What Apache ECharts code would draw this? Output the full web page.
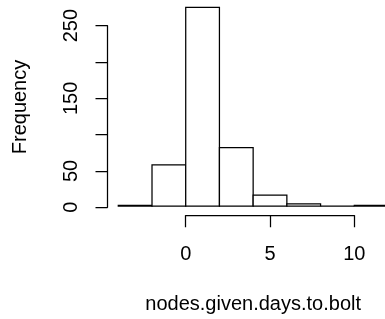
<!DOCTYPE html>
<html>
<head>
<meta charset="utf-8">
<script src="https://cdn.jsdelivr.net/npm/echarts@6/dist/echarts.min.js"></script>
<style>html,body{margin:0;padding:0;background:#fff;}#c{width:385px;height:319px;}</style>
</head>
<body>
<div id="c"></div>
<script>
// Histogram data
var breaks = [-4, -2, 0, 2, 4, 6, 8, 10, 12];
var counts = [1, 57, 275, 81, 15, 3, 0, 1];
var xTicks = [0, 5, 10];
var yTicks = [0, 50, 100, 150, 200, 250];
var yLabelShown = [0, 50, 150, 250];
var xTitle = 'nodes.given.days.to.bolt';
var yTitle = 'Frequency';

// Layout: R-style plot region in pixels (may exceed canvas)
var W = 385, H = 319;
var L = 107.5, R = 398.8, T = -0.5, B = 215.3;
var xr = breaks[breaks.length - 1] - breaks[0];
var xlim = [breaks[0] - 0.04 * xr, breaks[breaks.length - 1] + 0.04 * xr];
var ymax = Math.max.apply(null, counts);
var ylim = [-0.04 * ymax, ymax * 1.04];
function px(v) { return L + (v - xlim[0]) / (xlim[1] - xlim[0]) * (R - L); }
function py(v) { return B - (v - ylim[0]) / (ylim[1] - ylim[0]) * (B - T); }
function ix(p) { return xlim[0] + (p - L) / (R - L) * (xlim[1] - xlim[0]); }
function iy(p) { return ylim[0] + (B - p) / (B - T) * (ylim[1] - ylim[0]); }
// visible part of the plot region
var gx0 = Math.max(L, 0), gx1 = Math.min(R, W), gy0 = Math.max(T, 0), gy1 = Math.min(B, H);

var font = 'Liberation Sans, Arial, Helvetica, sans-serif';
var fs = 20;
var lw = 1.25;

var bars = counts.map(function (c, i) { return [breaks[i], breaks[i + 1], c]; });

var chart = echarts.init(document.getElementById('c'), null, { renderer: 'canvas' });
chart.setOption({
  animation: false,
  backgroundColor: '#ffffff',
  grid: [
    { left: gx0, top: gy0, width: gx1 - gx0, height: gy1 - gy0 },
    { left: L, top: py(yTicks[yTicks.length - 1]), width: 10, height: py(yTicks[0]) - py(yTicks[yTicks.length - 1]) },
    { left: px(xTicks[0]), top: B - 10, width: px(xTicks[xTicks.length - 1]) - px(xTicks[0]), height: 10 }
  ],
  xAxis: [
    { type: 'value', gridIndex: 0, min: ix(gx0), max: ix(gx1),
      axisLine: { show: false }, axisTick: { show: false }, axisLabel: { show: false }, splitLine: { show: false },
      name: xTitle, nameLocation: 'middle', nameGap: 80,
      nameTextStyle: { fontFamily: font, fontSize: fs, color: '#000', padding: [0, 0, 0, ((L + R) / 2 - (gx0 + gx1) / 2) * 2] } },
    { type: 'value', gridIndex: 1, show: false, min: 0, max: 1 },
    { type: 'value', gridIndex: 2, min: xTicks[0], max: xTicks[xTicks.length - 1], interval: 5, position: 'bottom',
      axisLine: { show: true, lineStyle: { color: '#000', width: lw } },
      axisTick: { show: true, inside: false, length: 12, lineStyle: { color: '#000', width: lw } },
      axisLabel: { show: true, margin: 29, fontFamily: font, fontSize: fs, color: '#000',
        formatter: function (v) { return xTicks.indexOf(v) >= 0 ? String(v) : ''; } },
      splitLine: { show: false } }
  ],
  yAxis: [
    { type: 'value', gridIndex: 0, min: iy(gy1), max: iy(gy0),
      axisLine: { show: false }, axisTick: { show: false }, axisLabel: { show: false }, splitLine: { show: false },
      name: yTitle, nameLocation: 'middle', nameGap: 77,
      nameTextStyle: { fontFamily: font, fontSize: fs, color: '#000' } },
    { type: 'value', gridIndex: 1, min: yTicks[0], max: yTicks[yTicks.length - 1], interval: 50, position: 'left',
      axisLine: { show: true, lineStyle: { color: '#000', width: lw } },
      axisTick: { show: true, inside: false, length: 12, lineStyle: { color: '#000', width: lw } },
      axisLabel: { show: true, rotate: 90, margin: 26, align: 'center', verticalAlign: 'bottom',
        fontFamily: font, fontSize: fs, color: '#000', showMinLabel: true, showMaxLabel: true,
        formatter: function (v) { return yLabelShown.indexOf(v) >= 0 ? String(v) : ''; } },
      splitLine: { show: false } },
    { type: 'value', gridIndex: 2, show: false, min: 0, max: 1 }
  ],
  series: [{
    type: 'custom',
    xAxisIndex: 0, yAxisIndex: 0,
    clip: false,
    data: bars,
    renderItem: function (params, api) {
      var p0 = api.coord([api.value(0), api.value(2)]);
      var p1 = api.coord([api.value(1), 0]);
      return {
        type: 'rect',
        shape: { x: p0[0], y: p0[1], width: p1[0] - p0[0], height: p1[1] - p0[1] },
        style: { fill: '#ffffff', stroke: '#000000', lineWidth: lw }
      };
    }
  }]
});
</script>
</body>
</html>
